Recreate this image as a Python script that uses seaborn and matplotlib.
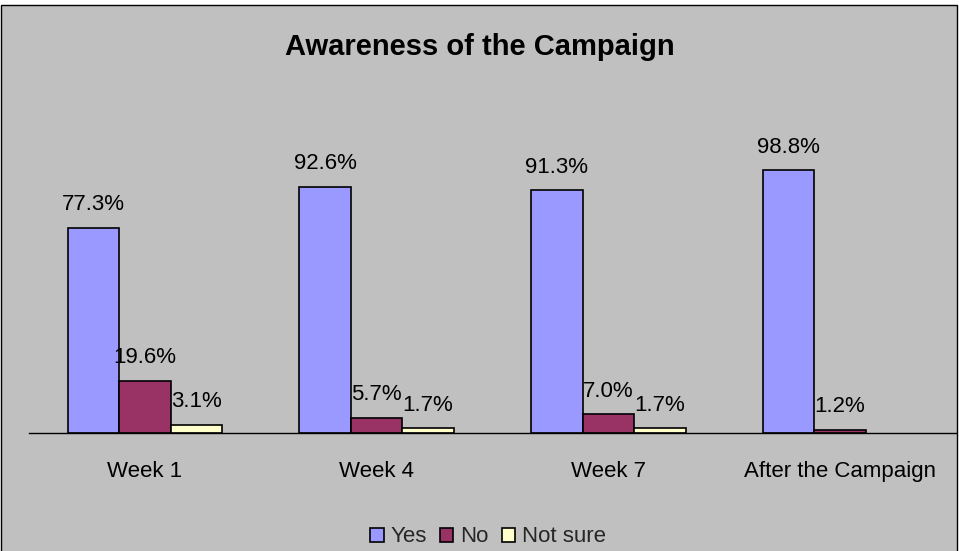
import matplotlib
matplotlib.use("Agg")
import matplotlib.pyplot as plt
from matplotlib.patches import Rectangle
import seaborn as sns
import pandas as pd
import numpy as np

categories = ["Week 1", "Week 4", "Week 7", "After the Campaign"]
yes_vals = [77.3, 92.6, 91.3, 98.8]
no_vals = [19.6, 5.7, 7.0, 1.2]
notsure_vals = [3.1, 1.7, 1.7, np.nan]
series = ["Yes", "No", "Not sure"]
colors = ["#9999FF", "#993366", "#FFFFCC"]

rows = []
for name, vals in zip(series, [yes_vals, no_vals, notsure_vals]):
    for c, v in zip(categories, vals):
        rows.append({"period": c, "response": name, "value": v})
df = pd.DataFrame(rows)

sns.set_theme(style="white")
plt.rcParams["font.family"] = ["Liberation Sans", "DejaVu Sans"]

FS = 16
W, H = 959, 551
fig = plt.figure(figsize=(W / 100, H / 100), dpi=100)
fig.patch.set_facecolor("white")
bg = Rectangle((1 / W, -0.05), 956 / W, 1.05 - 5 / H,
               transform=fig.transFigure, facecolor="#C0C0C0",
               edgecolor="black", linewidth=1, zorder=-10)
fig.patches.append(bg)

ax = fig.add_axes([29 / W, (H - 433) / H, 927 / W, (433 - 114) / H])
ax.set_zorder(5)
ax.set_facecolor("none")
sns.barplot(data=df, x="period", y="value", hue="response", order=categories,
            hue_order=series, palette=colors, saturation=1, width=2 / 3,
            edgecolor="black", linewidth=1.2, ax=ax, dodge=True)
ax.set_ylim(0, 120)
ax.set_xlim(-0.5, 3.5)
for c in ax.containers:
    ax.bar_label(c, fmt="{:.1f}%", padding=9, fontsize=FS, color="black")

for s in ["top", "left", "right"]:
    ax.spines[s].set_visible(False)
ax.spines["bottom"].set_color("black")
ax.spines["bottom"].set_linewidth(1)
ax.set_yticks([])
ax.set_xlabel("")
ax.set_ylabel("")
ax.tick_params(axis="x", length=0, pad=20, labelsize=FS, colors="black")

handles, labels = ax.get_legend_handles_labels()
ax.get_legend().remove()
leg = fig.legend(handles, labels, loc="center", bbox_to_anchor=(488 / W, 1 - 537 / H),
                 ncol=3, frameon=False, fontsize=FS, handlelength=0.6,
                 handleheight=0.6, handletextpad=0.3, columnspacing=0.6)
leg.set_zorder(6)

fig.text(480 / W, 1 - 47 / H, "Awareness of the Campaign", ha="center",
         va="center", fontsize=21, fontweight="bold", color="black", zorder=6)

fig.savefig("out.png", dpi=100)
